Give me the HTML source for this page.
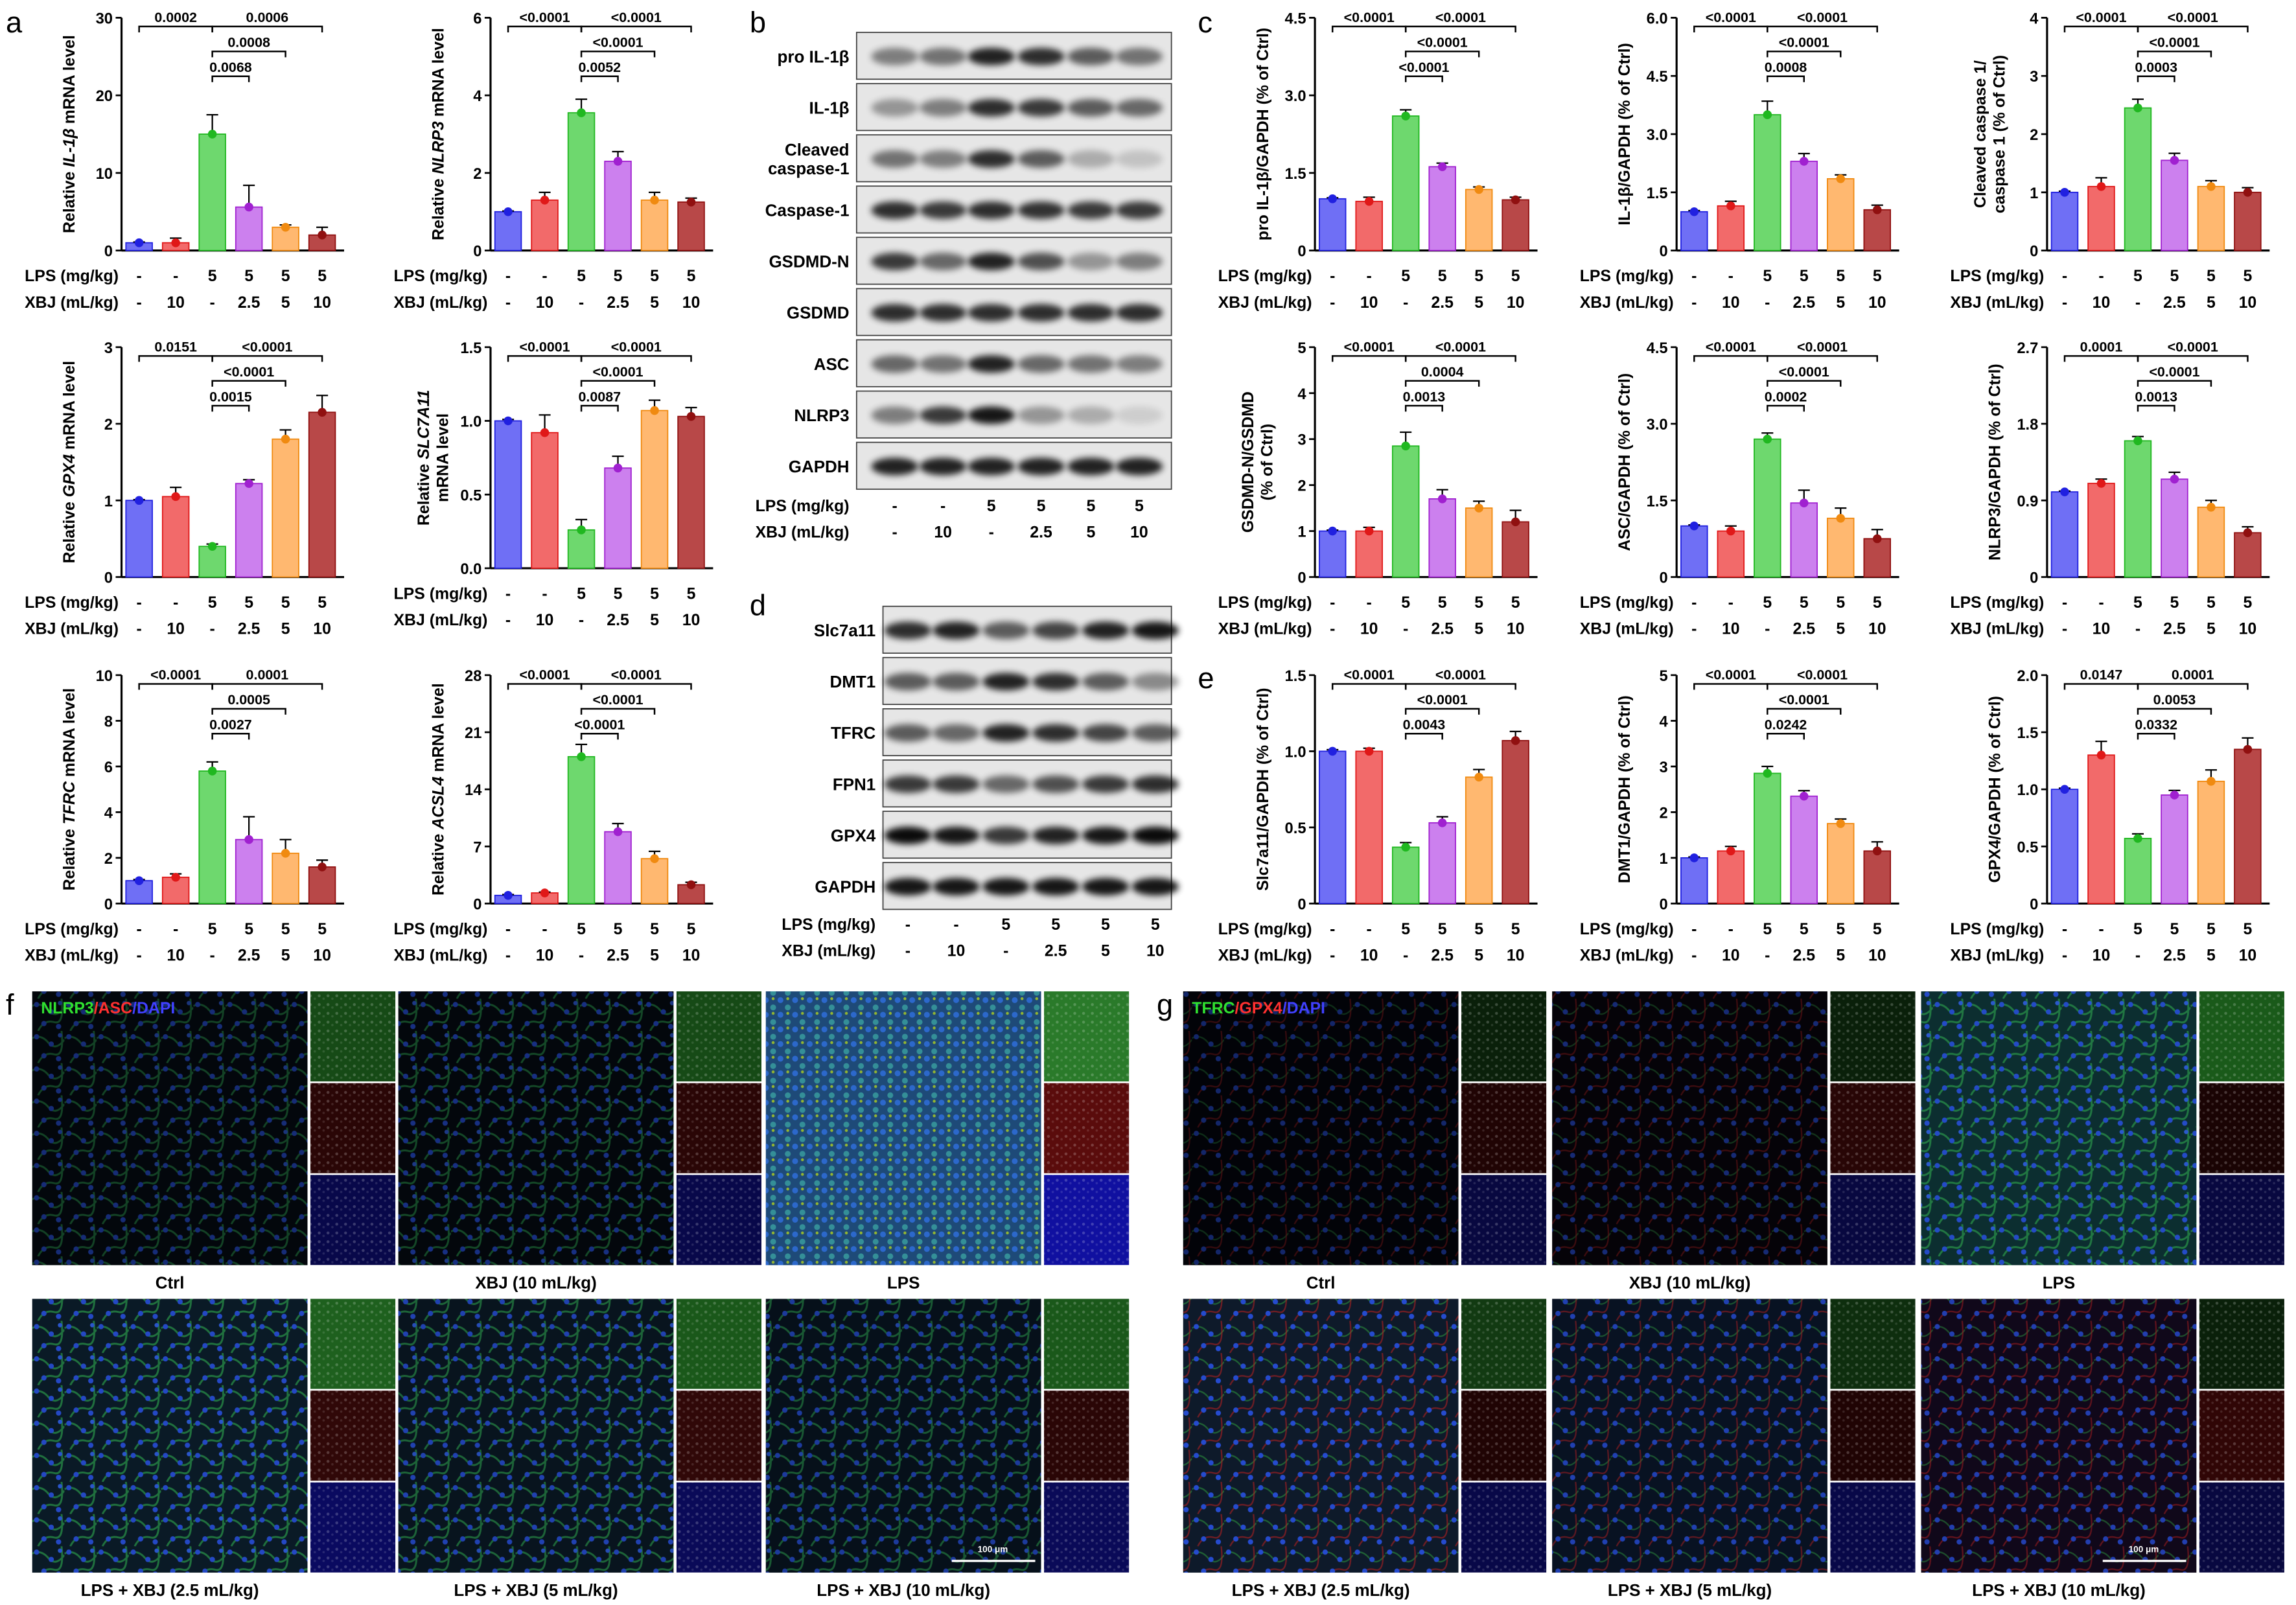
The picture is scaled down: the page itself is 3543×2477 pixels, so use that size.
<!DOCTYPE html>
<html><head><meta charset="utf-8">
<style>
html,body{margin:0;padding:0;background:#fff;}
svg{display:block;font-family:"Liberation Sans",Arial,sans-serif;font-weight:bold;}
</style></head>
<body>
<svg id="fig" xmlns="http://www.w3.org/2000/svg" width="3543" height="2477" viewBox="0 0 1568 1096">
<defs>
<filter id="blur" x="-30%" y="-60%" width="160%" height="220%"><feGaussianBlur stdDeviation="2.2"/></filter>
<pattern id="cells" width="22" height="22" patternUnits="userSpaceOnUse">
<path d="M0 5 Q6 2 11 8 T22 6 M4 22 Q8 14 15 16 T20 0" stroke="#2a9a4a" stroke-width="1.3" fill="none" opacity="0.8"/>
<circle cx="3" cy="4" r="1.8" fill="#2850e0"/><circle cx="13" cy="9" r="1.8" fill="#2850e0"/>
<circle cx="8" cy="17" r="1.8" fill="#2850e0"/><circle cx="18" cy="19" r="1.8" fill="#2850e0"/>
<circle cx="19" cy="3" r="1.5" fill="#3060e8"/>
</pattern>
<pattern id="cellsR" width="22" height="22" patternUnits="userSpaceOnUse">
<path d="M0 5 Q6 2 11 8 T22 6" stroke="#2a8a3a" stroke-width="1" fill="none" opacity="0.7"/>
<path d="M4 22 Q8 14 15 16 T20 0" stroke="#c02020" stroke-width="1" fill="none" opacity="0.6"/>
<circle cx="3" cy="4" r="1.8" fill="#2850e0"/><circle cx="13" cy="9" r="1.8" fill="#2850e0"/>
<circle cx="8" cy="17" r="1.8" fill="#2850e0"/><circle cx="18" cy="19" r="1.8" fill="#2850e0"/>
</pattern>
<pattern id="dense" width="10" height="10" patternUnits="userSpaceOnUse">
<circle cx="3" cy="3" r="2" fill="#3070e0"/><circle cx="8" cy="8" r="2" fill="#3aa0a0"/>
<circle cx="8" cy="2" r="1" fill="#b0d020"/>
</pattern>
<pattern id="speck" width="6" height="6" patternUnits="userSpaceOnUse">
<circle cx="2" cy="2" r="1" fill="#fff" opacity="0.2"/><circle cx="5" cy="4" r="0.8" fill="#fff" opacity="0.12"/>
</pattern>
</defs>
<g id="root"></g>
</svg>
<script>
// ---------- chart data ----------
const groups = ["Ctrl","XBJ","LPS","LPS+XBJ2.5","LPS+XBJ5","LPS+XBJ10"];
const lpsLabels = ["-","-","5","5","5","5"];
const xbjLabels = ["-","10","-","2.5","5","10"];
const fillColors = ["#6f6ff5","#f26a6a","#6ed86e","#cc80ee","#ffb870","#b84848"];
const markColors = ["#2020e0","#e01818","#20b820","#a020d0","#f08a10","#901010"];

const valsA1 = [1,1,15,5.6,3,2];
const valsA2 = [1,1.3,3.55,2.3,1.3,1.25];
const valsA3 = [1,1.05,0.4,1.22,1.8,2.15];
const valsA4 = [1,0.92,0.26,0.68,1.07,1.03];
const valsA5 = [1,1.15,5.8,2.8,2.2,1.6];
const valsA6 = [1,1.3,18,8.8,5.5,2.3];
const valsC1 = [1,0.95,2.6,1.62,1.18,0.98];
const valsC2 = [1,1.15,3.5,2.3,1.85,1.05];
const valsC3 = [1,1.1,2.45,1.55,1.1,1.0];
const valsC4 = [1,1,2.85,1.7,1.5,1.2];
const valsC5 = [1,0.9,2.7,1.45,1.15,0.75];
const valsC6 = [1,1.1,1.6,1.15,0.82,0.52];
const valsE1 = [1,1,0.37,0.53,0.83,1.07];
const valsE2 = [1,1.15,2.85,2.35,1.75,1.15];
const valsE3 = [1,1.3,0.57,0.95,1.07,1.35];

const errA1 = [0.1,0.6,2.5,2.8,0.3,1.0];
const errA2 = [0.02,0.2,0.35,0.25,0.2,0.1];
const errA3 = [0.01,0.12,0.03,0.05,0.12,0.22];
const errA4 = [0.01,0.12,0.07,0.08,0.07,0.06];
const errA5 = [0.05,0.15,0.4,1.0,0.6,0.3];
const errA6 = [0.1,0.1,1.5,1.0,0.9,0.3];
const errC1 = [0.02,0.08,0.12,0.07,0.05,0.05];
const errC2 = [0.03,0.12,0.35,0.2,0.1,0.12];
const errC3 = [0.02,0.15,0.15,0.12,0.1,0.08];
const errC4 = [0.02,0.08,0.3,0.2,0.15,0.25];
const errC5 = [0.02,0.1,0.12,0.25,0.2,0.18];
const errC6 = [0.01,0.05,0.05,0.08,0.08,0.07];
const errE1 = [0.01,0.02,0.03,0.04,0.05,0.06];
const errE2 = [0.02,0.1,0.15,0.12,0.1,0.2];
const errE3 = [0.01,0.12,0.04,0.04,0.1,0.1];

const ticksA1 = ["0","10","20","30"];
const ticksA2 = ["0","2","4","6"];
const ticksA3 = ["0","1","2","3"];
const ticksA4 = ["0.0","0.5","1.0","1.5"];
const ticksA5 = ["0","2","4","6","8","10"];
const ticksA6 = ["0","7","14","21","28"];
const ticksC1 = ["0","1.5","3.0","4.5"];
const ticksC2 = ["0","1.5","3.0","4.5","6.0"];
const ticksC3 = ["0","1","2","3","4"];
const ticksC4 = ["0","1","2","3","4","5"];
const ticksC5 = ["0","1.5","3.0","4.5"];
const ticksC6 = ["0","0.9","1.8","2.7"];
const ticksE1 = ["0","0.5","1.0","1.5"];
const ticksE2 = ["0","1","2","3","4","5"];
const ticksE3 = ["0","0.5","1.0","1.5","2.0"];

const sigA1 = [[0,2,"0.0002",0],[2,5,"0.0006",0],[2,4,"0.0008",1],[2,3,"0.0068",2]];
const sigA2 = [[0,2,"<0.0001",0],[2,5,"<0.0001",0],[2,4,"<0.0001",1],[2,3,"0.0052",2]];
const sigA3 = [[0,2,"0.0151",0],[2,5,"<0.0001",0],[2,4,"<0.0001",1],[2,3,"0.0015",2]];
const sigA4 = [[0,2,"<0.0001",0],[2,5,"<0.0001",0],[2,4,"<0.0001",1],[2,3,"0.0087",2]];
const sigA5 = [[0,2,"<0.0001",0],[2,5,"0.0001",0],[2,4,"0.0005",1],[2,3,"0.0027",2]];
const sigA6 = [[0,2,"<0.0001",0],[2,5,"<0.0001",0],[2,4,"<0.0001",1],[2,3,"<0.0001",2]];
const sigC1 = [[0,2,"<0.0001",0],[2,5,"<0.0001",0],[2,4,"<0.0001",1],[2,3,"<0.0001",2]];
const sigC2 = [[0,2,"<0.0001",0],[2,5,"<0.0001",0],[2,4,"<0.0001",1],[2,3,"0.0008",2]];
const sigC3 = [[0,2,"<0.0001",0],[2,5,"<0.0001",0],[2,4,"<0.0001",1],[2,3,"0.0003",2]];
const sigC4 = [[0,2,"<0.0001",0],[2,5,"<0.0001",0],[2,4,"0.0004",1],[2,3,"0.0013",2]];
const sigC5 = [[0,2,"<0.0001",0],[2,5,"<0.0001",0],[2,4,"<0.0001",1],[2,3,"0.0002",2]];
const sigC6 = [[0,2,"0.0001",0],[2,5,"<0.0001",0],[2,4,"<0.0001",1],[2,3,"0.0013",2]];
const sigE1 = [[0,2,"<0.0001",0],[2,5,"<0.0001",0],[2,4,"<0.0001",1],[2,3,"0.0043",2]];
const sigE2 = [[0,2,"<0.0001",0],[2,5,"<0.0001",0],[2,4,"<0.0001",1],[2,3,"0.0242",2]];
const sigE3 = [[0,2,"0.0147",0],[2,5,"0.0001",0],[2,4,"0.0053",1],[2,3,"0.0332",2]];

// western blot band intensities (0..1) per lane
const blotB = [
 ["pro IL-1β",[0.45,0.5,0.85,0.8,0.6,0.5]],
 ["IL-1β",[0.35,0.45,0.8,0.75,0.6,0.55]],
 ["Cleaved|caspase-1",[0.5,0.45,0.8,0.6,0.25,0.15]],
 ["Caspase-1",[0.8,0.75,0.8,0.78,0.75,0.75]],
 ["GSDMD-N",[0.75,0.55,0.85,0.65,0.35,0.45]],
 ["GSDMD",[0.8,0.8,0.8,0.8,0.8,0.8]],
 ["ASC",[0.55,0.5,0.85,0.55,0.5,0.45]],
 ["NLRP3",[0.45,0.75,0.9,0.35,0.25,0.1]],
 ["GAPDH",[0.85,0.85,0.85,0.85,0.85,0.85]]
];
const blotD = [
 ["Slc7a11",[0.8,0.85,0.6,0.7,0.85,0.9]],
 ["DMT1",[0.6,0.6,0.85,0.8,0.6,0.4]],
 ["TFRC",[0.6,0.55,0.85,0.8,0.7,0.6]],
 ["FPN1",[0.75,0.75,0.55,0.65,0.75,0.8]],
 ["GPX4",[0.95,0.9,0.75,0.85,0.9,0.95]],
 ["GAPDH",[0.9,0.9,0.9,0.9,0.9,0.9]]
];

// ---------- helpers ----------
const NS="http://www.w3.org/2000/svg";
const root=document.getElementById("root");
function el(tag, attrs, name, parent){
  const e=document.createElementNS(NS,tag);
  for(const k in attrs) e.setAttribute(k,attrs[k]);
  
  
  (parent||root).appendChild(e);
  return e;
}
function txt(x,y,s,size,anchor,name,parent,extra){
  const t=el("text",Object.assign({x:x,y:y,"font-size":size,"text-anchor":anchor||"middle",fill:"#000"},extra||{}),name,parent);
  t.textContent=s;
  return t;
}

// ---------- bar chart ----------
function barChart(c){
  const g=el("g",{},c.name);
  const n=c.ticks.length-1;
  const ymax=parseFloat(c.ticks[n]);
  const yS=v=>c.bot-(v/ymax)*(c.bot-c.top);
  const xS=i=>c.x0+12+25*i;
  el("line",{x1:c.x0,y1:c.top,x2:c.x0,y2:c.bot,stroke:"#000","stroke-width":1.4},"y-axis",g);
  el("line",{x1:c.x0,y1:c.bot,x2:c.x0+152,y2:c.bot,stroke:"#000","stroke-width":1.4},"x-axis",g);
  c.ticks.forEach((t,i)=>{
    const y=yS(parseFloat(t));
    el("line",{x1:c.x0-4,y1:y,x2:c.x0,y2:y,stroke:"#000","stroke-width":1.2},"y-tick",g);
    txt(c.x0-6,y+4,t,10.5,"end","y-tick-label",g);
  });
  const lab=el("text",{transform:`translate(${c.x0-(c.ylab.length>1?42:32)},${(c.top+c.bot)/2}) rotate(-90)`,"font-size":11,"text-anchor":"middle"},"y-axis-title",g);
  c.ylab.forEach((line,k)=>{
    const ts=document.createElementNS(NS,"tspan");
    ts.setAttribute("x",0);ts.setAttribute("dy",k===0?0:13);
    ts.innerHTML=line;
    lab.appendChild(ts);
  });
  c.vals.forEach((v,i)=>{
    const x=xS(i), y=yS(v);
    el("rect",{x:x-9,y:y,width:18,height:c.bot-y,fill:fillColors[i],stroke:markColors[i],"stroke-width":0.8},"bar-"+groups[i].toLowerCase().replace(/[^a-z0-9]+/g,"-"),g);
    const e=c.err[i];
    el("path",{d:`M${x} ${yS(v)} V${yS(v+e)} M${x-4} ${yS(v+e)} H${x+4}`,stroke:"#000","stroke-width":1},"error-bar",g);
    el("circle",{cx:x,cy:y,r:3,fill:markColors[i]},"data-point",g);
  });
  c.sig.forEach(s=>{
    const y=c.top+6+s[3]*17;
    el("path",{d:`M${xS(s[0])} ${y+4} V${y} H${xS(s[1])} V${y+4}`,stroke:"#000","stroke-width":1.1,fill:"none"},"significance-bracket",g);
    txt((xS(s[0])+xS(s[1]))/2,y-3,s[2],9.5,"middle","p-value",g);
  });
  txt(c.x0-2,c.bot+21,"LPS (mg/kg)",11,"end","lps-row-label",g);
  txt(c.x0-2,c.bot+39,"XBJ (mL/kg)",11,"end","xbj-row-label",g);
  lpsLabels.forEach((l,i)=>txt(xS(i),c.bot+21,l,11,"middle","lps-dose",g));
  xbjLabels.forEach((l,i)=>txt(xS(i),c.bot+39,l,11,"middle","xbj-dose",g));
}
const it=s=>`<tspan font-style="italic">${s}</tspan>`;
const charts=[
 {name:"chart-il1b-mrna",x0:83,top:12,bot:171,ticks:ticksA1,vals:valsA1,err:errA1,sig:sigA1,ylab:["Relative "+it("IL-1β")+" mRNA level"]},
 {name:"chart-nlrp3-mrna",x0:335,top:12,bot:171,ticks:ticksA2,vals:valsA2,err:errA2,sig:sigA2,ylab:["Relative "+it("NLRP3")+" mRNA level"]},
 {name:"chart-gpx4-mrna",x0:83,top:237,bot:394,ticks:ticksA3,vals:valsA3,err:errA3,sig:sigA3,ylab:["Relative "+it("GPX4")+" mRNA level"]},
 {name:"chart-slc7a11-mrna",x0:335,top:237,bot:388,ticks:ticksA4,vals:valsA4,err:errA4,sig:sigA4,ylab:["Relative "+it("SLC7A11"),"mRNA level"]},
 {name:"chart-tfrc-mrna",x0:83,top:461,bot:617,ticks:ticksA5,vals:valsA5,err:errA5,sig:sigA5,ylab:["Relative "+it("TFRC")+" mRNA level"]},
 {name:"chart-acsl4-mrna",x0:335,top:461,bot:617,ticks:ticksA6,vals:valsA6,err:errA6,sig:sigA6,ylab:["Relative "+it("ACSL4")+" mRNA level"]},
 {name:"chart-pro-il1b",x0:898,top:12,bot:171,ticks:ticksC1,vals:valsC1,err:errC1,sig:sigC1,ylab:["pro IL-1β/GAPDH (% of Ctrl)"]},
 {name:"chart-il1b",x0:1145,top:12,bot:171,ticks:ticksC2,vals:valsC2,err:errC2,sig:sigC2,ylab:["IL-1β/GAPDH (% of Ctrl)"]},
 {name:"chart-cleaved-caspase1",x0:1398,top:12,bot:171,ticks:ticksC3,vals:valsC3,err:errC3,sig:sigC3,ylab:["Cleaved caspase 1/","caspase 1 (% of Ctrl)"]},
 {name:"chart-gsdmd-n",x0:898,top:237,bot:394,ticks:ticksC4,vals:valsC4,err:errC4,sig:sigC4,ylab:["GSDMD-N/GSDMD","(% of Ctrl)"]},
 {name:"chart-asc",x0:1145,top:237,bot:394,ticks:ticksC5,vals:valsC5,err:errC5,sig:sigC5,ylab:["ASC/GAPDH (% of Ctrl)"]},
 {name:"chart-nlrp3",x0:1398,top:237,bot:394,ticks:ticksC6,vals:valsC6,err:errC6,sig:sigC6,ylab:["NLRP3/GAPDH (% of Ctrl)"]},
 {name:"chart-slc7a11",x0:898,top:461,bot:617,ticks:ticksE1,vals:valsE1,err:errE1,sig:sigE1,ylab:["Slc7a11/GAPDH (% of Ctrl)"]},
 {name:"chart-dmt1",x0:1145,top:461,bot:617,ticks:ticksE2,vals:valsE2,err:errE2,sig:sigE2,ylab:["DMT1/GAPDH (% of Ctrl)"]},
 {name:"chart-gpx4",x0:1398,top:461,bot:617,ticks:ticksE3,vals:valsE3,err:errE3,sig:sigE3,ylab:["GPX4/GAPDH (% of Ctrl)"]}
];
charts.forEach(barChart);

// ---------- blots ----------
function blot(name,rows,x0,x1,y0,rowH,labelX,lanes,yLab){
  const g=el("g",{},name);
  rows.forEach((r,k)=>{
    const y=y0+k*rowH;
    const rg=el("g",{},"blot-row-"+r[0].toLowerCase().replace(/[^a-z0-9]+/g,"-"),g);
    el("rect",{x:x0,y:y+1,width:x1-x0,height:rowH-3,fill:"#e6e6e6",stroke:"#444","stroke-width":0.8},"blot-background",rg);
    r[1].forEach((v,i)=>{
      el("ellipse",{cx:lanes[i],cy:y+rowH/2,rx:16,ry:6,fill:"#000",opacity:v,filter:"url(#blur)"},"band",rg);
    });
    const parts=r[0].split("|");
    parts.forEach((p,j)=>txt(labelX,y+rowH/2+4+(j-(parts.length-1)/2)*13,p,11.5,"end","blot-label",rg));
  });
  txt(labelX,yLab,"LPS (mg/kg)",11,"end","lps-row-label",g);
  txt(labelX,yLab+18,"XBJ (mL/kg)",11,"end","xbj-row-label",g);
  lpsLabels.forEach((l,i)=>txt(lanes[i],yLab,l,11,"middle","lps-dose",g));
  xbjLabels.forEach((l,i)=>txt(lanes[i],yLab+18,l,11,"middle","xbj-dose",g));
}
blot("blot-b",blotB,585,800,21,35,580,[611,644,677,711,745,778],349);
blot("blot-d",blotD,603,800,413,35,598,[620,653,687,721,755,789],635);

// ---------- IF images ----------
const ifF=[
 {x:22,y:677,fill:"#03070c",pat:"url(#cells)",op:0.5,label:"Ctrl",ins:["#164a16","#2a0606","#08084a"]},
 {x:272,y:677,fill:"#03070c",pat:"url(#cells)",op:0.55,label:"XBJ (10 mL/kg)",ins:["#164a16","#2a0606","#08084a"]},
 {x:523,y:677,fill:"#1e4a78",pat:"url(#dense)",op:0.8,label:"LPS",ins:["#2a7a2a","#5a0c0c","#1010a0"]},
 {x:22,y:887,fill:"#0a1a26",pat:"url(#cells)",op:0.85,label:"LPS + XBJ (2.5 mL/kg)",ins:["#1e601e","#300808","#0a0a60"]},
 {x:272,y:887,fill:"#08141e",pat:"url(#cells)",op:0.75,label:"LPS + XBJ (5 mL/kg)",ins:["#1a581a","#300808","#0a0a58"]},
 {x:523,y:887,fill:"#06101a",pat:"url(#cells)",op:0.65,label:"LPS + XBJ (10 mL/kg)",ins:["#1a581a","#2a0606","#0a0a58"]}
];
const ifG=[
 {x:808,y:677,fill:"#020308",pat:"url(#cellsR)",op:0.45,label:"Ctrl",ins:["#0a200a","#200404","#080840"]},
 {x:1060,y:677,fill:"#050308",pat:"url(#cellsR)",op:0.5,label:"XBJ (10 mL/kg)",ins:["#0a200a","#280606","#080840"]},
 {x:1312,y:677,fill:"#0c2e30",pat:"url(#cells)",op:0.85,label:"LPS",ins:["#1a5a1a","#1a0404","#080840"]},
 {x:808,y:887,fill:"#0e1a2a",pat:"url(#cellsR)",op:0.9,label:"LPS + XBJ (2.5 mL/kg)",ins:["#123a12","#200404","#080848"]},
 {x:1060,y:887,fill:"#081222",pat:"url(#cellsR)",op:0.75,label:"LPS + XBJ (5 mL/kg)",ins:["#0e2e0e","#200404","#080848"]},
 {x:1312,y:887,fill:"#10081a",pat:"url(#cellsR)",op:0.75,label:"LPS + XBJ (10 mL/kg)",ins:["#0a200a","#300606","#080840"]}
];
function ifPanel(name,list){
  const g=el("g",{},name);
  list.forEach(p=>{
    const ig=el("g",{},"if-image-"+p.label.toLowerCase().replace(/[^a-z0-9]+/g,"-"),g);
    el("rect",{x:p.x,y:p.y,width:188,height:187,fill:p.fill},"image-background",ig);
    el("rect",{x:p.x,y:p.y,width:188,height:187,fill:p.pat,opacity:p.op},"image-texture",ig);
    p.ins.forEach((c,k)=>{
      el("rect",{x:p.x+190,y:p.y+k*62.7,width:58,height:61.5,fill:c},"inset-channel",ig);
      el("rect",{x:p.x+190,y:p.y+k*62.7,width:58,height:61.5,fill:"url(#speck)"},"inset-texture",ig);
    });
    txt(p.x+94,p.y+203,p.label,11.5,"middle","condition-label",g);
  });
}
ifPanel("if-panel-f",ifF);
ifPanel("if-panel-g",ifG);
const lf=el("text",{x:28,y:692,"font-size":11},"channel-legend-f");
lf.innerHTML='<tspan fill="#30e030">NLRP3</tspan><tspan fill="#ff3030">/ASC</tspan><tspan fill="#4040ff">/DAPI</tspan>';
const lg=el("text",{x:814,y:692,"font-size":11},"channel-legend-g");
lg.innerHTML='<tspan fill="#30e030">TFRC</tspan><tspan fill="#ff3030">/GPX4</tspan><tspan fill="#4040ff">/DAPI</tspan>';
el("line",{x1:650,y1:1066,x2:707,y2:1066,stroke:"#fff","stroke-width":1.5},"scale-bar-f");
txt(678,1060,"100 μm",6,"middle","scale-bar-label-f",root,{fill:"#fff"});
el("line",{x1:1436,y1:1066,x2:1493,y2:1066,stroke:"#fff","stroke-width":1.5},"scale-bar-g");
txt(1464,1060,"100 μm",6,"middle","scale-bar-label-g",root,{fill:"#fff"});

[["a",4,22],["b",512,22],["c",818,22],["d",512,420],["e",818,470],["f",4,693],["g",790,693]].forEach(p=>{
  txt(p[1],p[2],p[0],20,"start","panel-letter-"+p[0],root,{"font-weight":"normal"});
});
</script>
</body></html>
